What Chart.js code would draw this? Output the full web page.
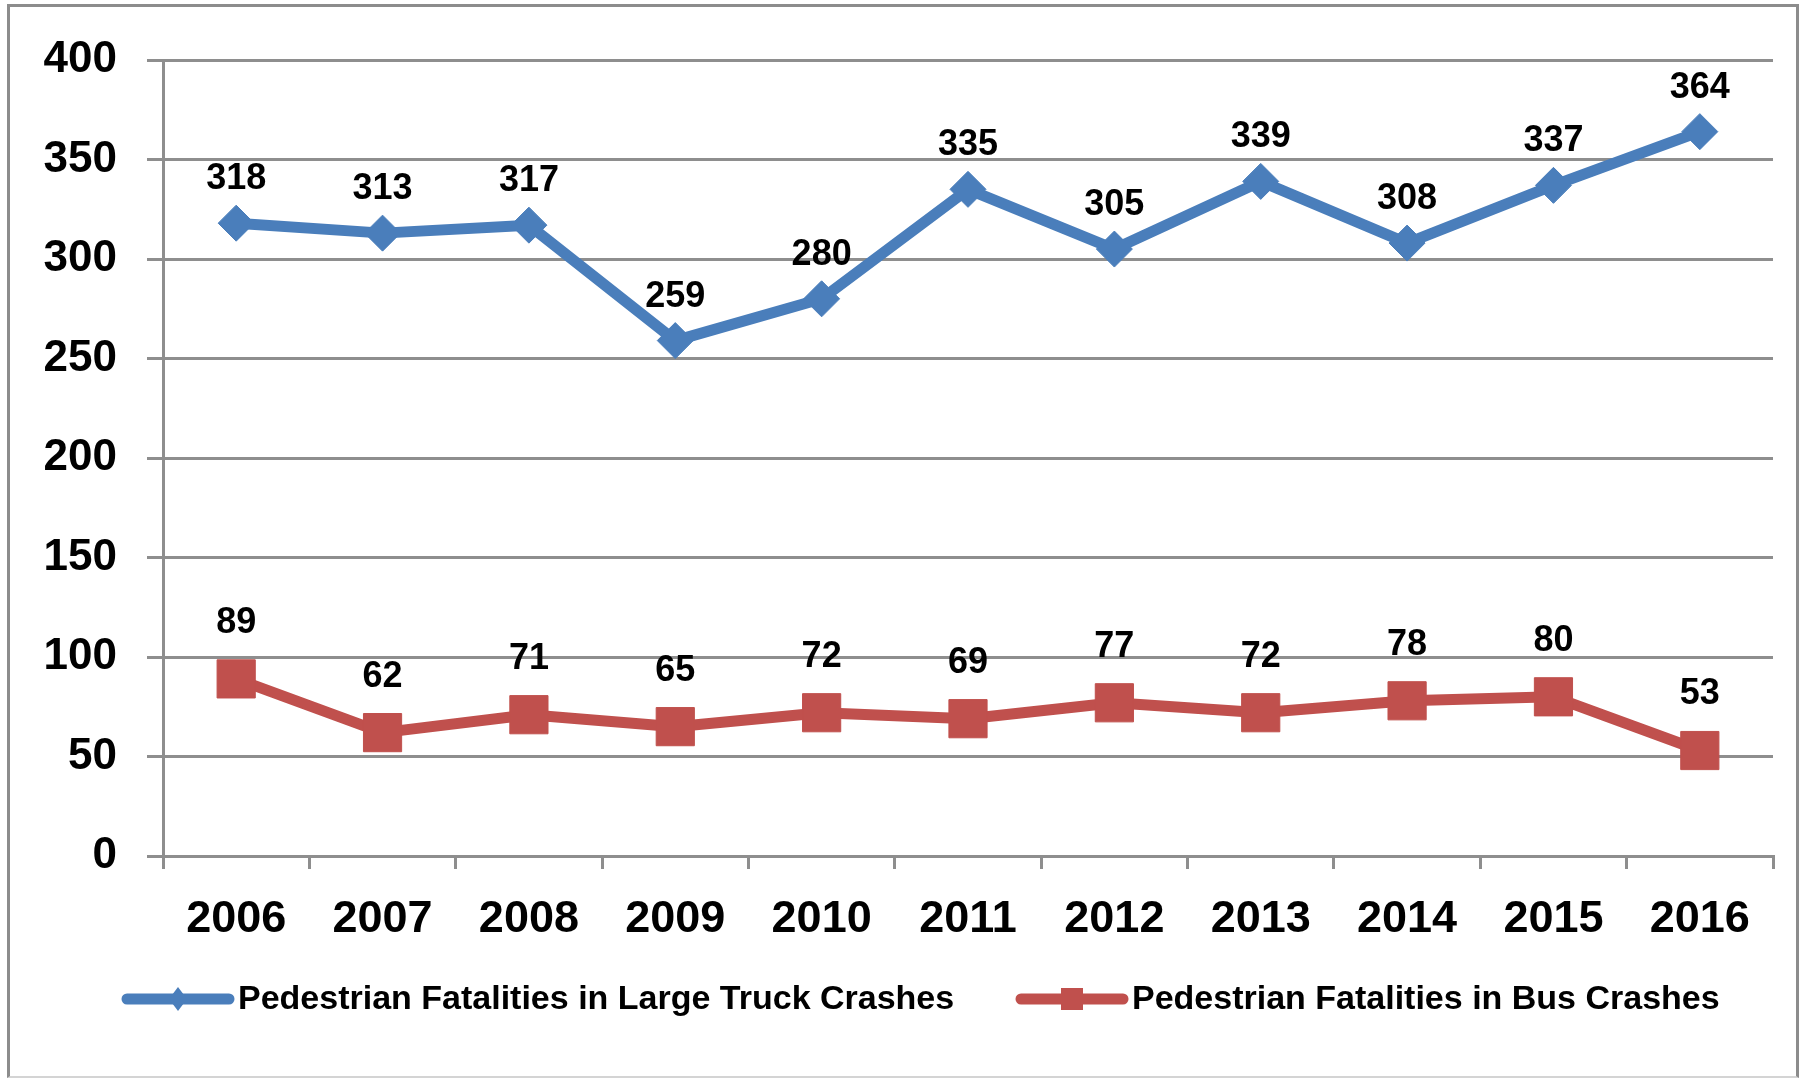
<!DOCTYPE html>
<html>
<head>
<meta charset="utf-8">
<script src="https://cdn.jsdelivr.net/npm/chart.js@4.4.0/dist/chart.umd.min.js"></script>
<style>
  html, body { margin: 0; padding: 0; background: #fff; }
  #wrap { position: relative; width: 1801px; height: 1078px; }
  #frame {
    position: absolute; left: 7px; top: 4px; width: 1786px; height: 1069px;
    border: 3px solid #8c8c8c; border-bottom: 2px solid #d4d4d4; pointer-events: none;
  }
</style>
</head>
<body>
<div id="wrap">
  <canvas id="chart" width="1801" height="1078"></canvas>
  <div id="frame"></div>
</div>
<script>
const years = ['2006', '2007', '2008', '2009', '2010', '2011', '2012', '2013', '2014', '2015', '2016'];
const truckFatalities = [318, 313, 317, 259, 280, 335, 305, 339, 308, 337, 364];
const busFatalities = [89, 62, 71, 65, 72, 69, 77, 72, 78, 80, 53];
const seriesNames = ['Pedestrian Fatalities in Large Truck Crashes', 'Pedestrian Fatalities in Bus Crashes'];

const FONT = '"Liberation Sans", Arial, sans-serif';
const BLUE = '#4a7ebb';
const RED = '#c0504d';
const GRID = '#8e8e8e';

// value labels above each point
const valueLabels = {
  id: 'valueLabels',
  afterDatasetsDraw(chart) {
    const ctx = chart.ctx;
    const offsets = [44, 56];
    ctx.save();
    ctx.font = 'bold 36px ' + FONT;
    ctx.fillStyle = '#000';
    ctx.textAlign = 'center';
    ctx.textBaseline = 'middle';
    chart.data.datasets.forEach((ds, i) => {
      chart.getDatasetMeta(i).data.forEach((pt, j) => {
        ctx.fillText(ds.data[j], pt.x, pt.y - offsets[i]);
      });
    });
    ctx.restore();
  }
};

// legend with line + marker, like the Excel one
const lineLegend = {
  id: 'lineLegend',
  afterDraw(chart) {
    const ctx = chart.ctx;
    const y = 999;
    const items = [
      { x: 127, color: BLUE, marker: 'diamond' },
      { x: 1021, color: RED, marker: 'square' }
    ];
    ctx.save();
    items.forEach((it, i) => {
      ctx.strokeStyle = it.color;
      ctx.lineWidth = 11;
      ctx.lineCap = 'round';
      ctx.beginPath();
      ctx.moveTo(it.x, y);
      ctx.lineTo(it.x + 102, y);
      ctx.stroke();
      ctx.fillStyle = it.color;
      const cx = it.x + 51;
      ctx.beginPath();
      if (it.marker === 'diamond') {
        ctx.moveTo(cx, y - 12);
        ctx.lineTo(cx + 9, y);
        ctx.lineTo(cx, y + 12);
        ctx.lineTo(cx - 9, y);
        ctx.closePath();
      } else {
        ctx.rect(cx - 11, y - 11, 22, 22);
      }
      ctx.fill();
      ctx.fillStyle = '#000';
      ctx.font = 'bold 34px ' + FONT;
      ctx.textAlign = 'left';
      ctx.textBaseline = 'middle';
      ctx.fillText(seriesNames[i], it.x + 111, y + 1);
    });
    ctx.restore();
  }
};

new Chart(document.getElementById('chart'), {
  type: 'line',
  data: {
    labels: years,
    datasets: [
      {
        label: seriesNames[0],
        data: truckFatalities,
        borderColor: BLUE,
        backgroundColor: BLUE,
        borderWidth: 11,
        borderJoinStyle: 'round',
        tension: 0,
        pointStyle: 'rectRot',
        pointRadius: 18,
        pointBorderWidth: 1
      },
      {
        label: seriesNames[1],
        data: busFatalities,
        borderColor: RED,
        backgroundColor: RED,
        borderWidth: 11,
        borderJoinStyle: 'round',
        tension: 0,
        pointStyle: 'rect',
        pointRadius: 27,
        pointBorderWidth: 1
      }
    ]
  },
  options: {
    responsive: false,
    animation: false,
    layout: { padding: { left: 0, right: 27, top: 60, bottom: 122 } },
    plugins: {
      legend: { display: false },
      tooltip: { enabled: false }
    },
    scales: {
      x: {
        offset: true,
        grid: { offset: true, drawOnChartArea: false, drawTicks: true, tickLength: 13, color: GRID, lineWidth: 3 },
        border: { display: true, color: GRID, width: 3 },
        ticks: { color: '#000', font: { family: FONT, size: 45, weight: 'bold' }, padding: 24, maxRotation: 0 },
        afterFit(scale) { scale.height = 100; }
      },
      y: {
        min: 0,
        max: 400,
        ticks: { stepSize: 50, color: '#000', font: { family: FONT, size: 44, weight: 'bold' }, padding: 30 },
        grid: { color: GRID, lineWidth: 3, tickLength: 16 },
        border: { display: true, color: GRID, width: 3 },
        afterFit(scale) { scale.width = 163; }
      }
    }
  },
  plugins: [valueLabels, lineLegend]
});
</script>
</body>
</html>
